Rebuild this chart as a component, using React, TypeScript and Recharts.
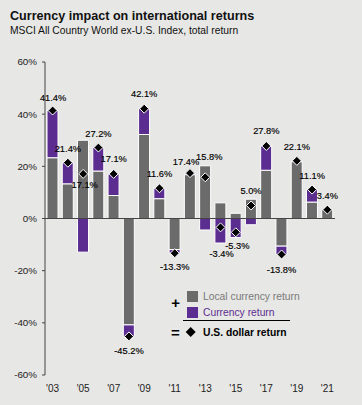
import React from 'react';
import { ComposedChart, Bar, Line, XAxis, YAxis, ReferenceLine, LabelList } from 'recharts';

const years = ['2003','2004','2005','2006','2007','2008','2009','2010','2011','2012','2013','2014','2015','2016','2017','2018','2019','2020','2021'];
const localReturn = [23.3, 13.3, 30.0, 18.2, 8.8, -40.8, 32.2, 7.6, -11.9, 16.8, 20.2, 6.0, 2.0, 7.4, 18.5, -10.6, 21.8, 6.3, 3.4];
const currencyReturn = [18.1, 8.1, -12.9, 9.0, 8.3, -4.4, 9.9, 4.0, -1.4, 0.6, -4.4, -9.4, -7.3, -2.4, 9.3, -3.2, 0.3, 4.8, 0.0];
const usdReturn = [41.4, 21.4, 17.1, 27.2, 17.1, -45.2, 42.1, 11.6, -13.3, 17.4, 15.8, -3.4, -5.3, 5.0, 27.8, -13.8, 22.1, 11.1, 3.4];
const yTicks = [-60, -40, -20, 0, 20, 40, 60];

// label offsets relative to the diamond (dx, dy)
const labelOffsets: [number, number][] = [
  [0.5, -13], [0, -14], [1.5, 11], [0, -14], [0, -14.5], [0, 15], [0, -14.5], [0, -14], [0, 14], [-4, -11],
  [4, -20], [1, 26.5], [1.5, 13.5], [0, -14], [0, -15], [0, 16], [0, -14], [0, -14], [0, -14],
];

const data = years.map((y, i) => ({
  year: y,
  local: localReturn[i],
  currency: currencyReturn[i],
  usd: usdReturn[i],
}));

const BG = '#e7e7e5';
const GRAY = '#6b6b6b';
const PURPLE = '#5c2d91';
const FONT = '"Liberation Sans", Arial, sans-serif';

const Diamond = (props: any) => {
  const { cx, cy, index } = props;
  if (cx == null || cy == null) return <g key={`d${index}`} />;
  const r = 4.5;
  return (
    <polygon
      key={`d${index}`}
      points={`${cx},${cy - r} ${cx + r},${cy} ${cx},${cy + r} ${cx - r},${cy}`}
      fill="#000"
      stroke="#fff"
      strokeWidth={1}
    />
  );
};

const renderLabel = (props: any) => {
  const { x, y, value, index } = props;
  const [dx, dy] = labelOffsets[index] || [0, -14];
  return (
    <text
      key={`l${index}`}
      x={x + dx}
      y={y + dy}
      textAnchor="middle"
      dominantBaseline="central"
      fontSize={9.3}
      fontFamily={FONT}
      fill="#000"
      stroke="#000"
      strokeWidth={0.15}
    >
      {`${Number(value).toFixed(1)}%`}
    </text>
  );
};

export default function App() {
  return (
    <div style={{ position: 'absolute', left: 0, top: 0, width: 362, height: 405, background: BG, overflow: 'hidden' }}>
      <div style={{ position: 'absolute', left: 10, top: 10, fontFamily: FONT, fontWeight: 'bold', fontSize: 12.6, lineHeight: 1, color: '#111', whiteSpace: 'nowrap' }}>
        Currency impact on international returns
      </div>
      <div style={{ position: 'absolute', left: 10, top: 25.5, fontFamily: FONT, fontSize: 10.3, lineHeight: 1, color: '#111', whiteSpace: 'nowrap' }}>
        MSCI All Country World ex-U.S. Index, total return
      </div>
      <div style={{ position: 'absolute', left: 0, top: 0 }}>
        <ComposedChart
          width={362}
          height={405}
          data={data}
          stackOffset="sign"
          margin={{ top: 62, right: 27, left: 0, bottom: 5 }}
          barCategoryGap={0}
        >
          <XAxis
            dataKey="year"
            interval={1}
            height={25}
            axisLine={false}
            tickLine={false}
            tickMargin={4}
            tick={{ fontSize: 10, fontFamily: FONT, fill: '#222' }}
            tickFormatter={(v: string) => `'${v.slice(2)}`}
          />
          <YAxis
            domain={[-60, 60]}
            ticks={yTicks}
            width={45}
            axisLine={{ stroke: '#444' }}
            tickLine={{ stroke: '#444' }}
            tickSize={3}
            tickMargin={5}
            tick={{ fontSize: 9.8, fontFamily: FONT, fill: '#222' }}
            tickFormatter={(v: number) => `${v}%`}
          />
          <Bar dataKey="local" stackId="a" fill={GRAY} stroke="#fff" strokeWidth={1} barSize={11} isAnimationActive={false} />
          <Bar dataKey="currency" stackId="a" fill={PURPLE} stroke="#fff" strokeWidth={1} barSize={11} isAnimationActive={false} />
          <ReferenceLine y={0} stroke="#444" strokeWidth={1} />
          <Line
            dataKey="usd"
            stroke="none"
            dot={Diamond}
            activeDot={false}
            isAnimationActive={false}
          >
            <LabelList dataKey="usd" content={renderLabel} />
          </Line>
        </ComposedChart>
      </div>
      <svg width={362} height={405} style={{ position: 'absolute', left: 0, top: 0, pointerEvents: 'none' }}>
        <text x={175.7} y={302.5} textAnchor="middle" dominantBaseline="central" fontSize={15} fontWeight="bold" fontFamily={FONT} fill="#000">+</text>
        <rect x={187} y={291} width={11} height={11} fill={GRAY} />
        <text x={203} y={296} dominantBaseline="central" fontSize={10.3} fontFamily={FONT} fill="#7a7a7a">Local currency return</text>
        <rect x={187} y={307} width={11} height={11} fill={PURPLE} />
        <text x={203} y={312.5} dominantBaseline="central" fontSize={10.3} fontFamily={FONT} fill={PURPLE}>Currency return</text>
        <line x1={183} x2={290} y1={320.5} y2={320.5} stroke="#000" strokeWidth={1} />
        <text x={175.5} y={332} textAnchor="middle" dominantBaseline="central" fontSize={15} fontWeight="bold" fontFamily={FONT} fill="#000">=</text>
        <polygon points="190.7,327 195.7,332 190.7,337 185.7,332" fill="#000" />
        <text x={203} y={332} dominantBaseline="central" fontSize={10.3} fontWeight="bold" fontFamily={FONT} fill="#000">U.S. dollar return</text>
      </svg>
    </div>
  );
}
